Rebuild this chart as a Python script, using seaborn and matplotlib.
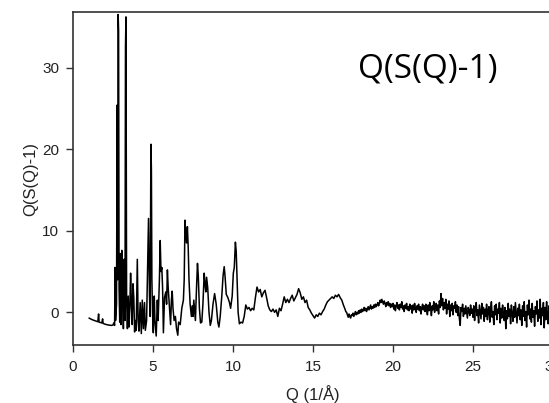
import numpy as np
import pandas as pd
import matplotlib
matplotlib.use("Agg")
import matplotlib.pyplot as plt
import seaborn as sns

# ---- data ----
q_peaks = [1.0, 1.2, 1.4, 1.55, 1.6, 1.63, 1.8, 1.85, 1.88, 2.0, 2.2, 2.4, 2.5, 2.55, 2.6,
           2.63, 2.66, 2.72, 2.76, 2.79, 2.82, 2.85, 2.88, 2.92, 2.96, 3.0, 3.05, 3.1, 3.15,
           3.2, 3.25, 3.28, 3.31, 3.35, 3.4, 3.45, 3.5, 3.55, 3.6, 3.65, 3.7, 3.75, 3.8, 3.85,
           3.9, 3.95, 4.02, 4.07, 4.12, 4.2, 4.27, 4.33, 4.4, 4.47, 4.52, 4.6, 4.65, 4.72,
           4.78, 4.82, 4.87, 4.9, 4.93, 4.97, 5.02, 5.08, 5.12, 5.2, 5.27, 5.32, 5.4, 5.45,
           5.5, 5.55, 5.6, 5.65, 5.72, 5.8, 5.85, 5.9, 5.95, 6.0, 6.05, 6.1, 6.15, 6.2, 6.25,
           6.32, 6.4, 6.47, 6.55, 6.6, 6.7, 6.8, 6.9, 6.95, 7.0, 7.05, 7.1, 7.15, 7.2, 7.25,
           7.32, 7.4, 7.45, 7.5, 7.55, 7.6, 7.65, 7.72, 7.78, 7.83, 7.9, 7.97, 8.05, 8.12,
           8.2, 8.25, 8.3, 8.35, 8.42, 8.5, 8.58, 8.65, 8.75, 8.85, 8.95, 9.05, 9.12, 9.2,
           9.3, 9.38, 9.45, 9.5, 9.58, 9.68, 9.78, 9.85, 9.95, 10.02, 10.08, 10.15, 10.2,
           10.27, 10.32, 10.4, 10.5, 10.6, 10.7, 10.8, 10.9, 11.0, 11.1, 11.2, 11.3, 11.4,
           11.5, 11.6, 11.7, 11.8, 11.9, 12.0, 12.1, 12.2, 12.3, 12.4, 12.5, 12.6, 12.7, 12.8,
           12.9, 13.0, 13.1, 13.2, 13.3, 13.4, 13.5, 13.6, 13.7, 13.8, 13.9, 14.0, 14.1, 14.2,
           14.3, 14.4, 14.5, 14.6, 14.7, 14.8, 14.9, 15.0, 15.1, 15.2, 15.3, 15.4, 15.5, 15.6,
           15.7, 15.8, 15.9, 16.0, 16.1, 16.2, 16.3, 16.4, 16.5, 16.6, 16.7, 16.8, 16.9]
s_peaks = [-0.7, -0.9, -1.05, -1.15, -0.2, -1.2, -1.3, -0.8, -1.35, -1.45, -1.55, -1.6, -1.55, -1.3, -1.6,
           5.5, -1.0, 1.0, 25.4, 4.0, 36.5, 34.5, 3.0, -1.2, 7.2, -1.5, 7.6, 2.0, -2.0,
           6.5, -1.0, 32.5, 36.2, 1.5, -2.0, 2.0, -1.8, 0.5, 4.8, 1.0, -1.5, 3.5, 1.8, -2.4,
           -1.0, -2.2, 6.5, -1.0, -2.3, 1.2, -2.6, 1.5, -2.0, 1.2, -2.2, -1.0, 4.0, 11.5,
           2.0, -0.5, 20.6, 17.5, 4.0, 0.0, -2.5, 2.0, -1.0, -2.9, 1.5, -1.0, 4.0, 8.8,
           5.0, 5.5, 3.0, -2.5, 1.8, 2.5, 1.0, 5.2, 3.0, 1.5, 0.0, -1.5, 1.5, 2.6, 0.5,
           -1.0, -0.5, -2.0, -2.8, -1.2, -1.5, 0.5, 1.5, 4.0, 11.3, 9.5, 8.5, 10.5, 8.0, 4.0,
           1.0, -0.5, 0.8, -0.5, 1.5, 0.2, -1.0, 3.0, 6.0, 4.5, 0.5, -1.3, -1.2, 1.0,
           4.8, 3.5, 2.5, 4.3, 3.0, 0.0, -1.6, -1.0, 1.0, 2.3, 1.0, -1.2, -1.8, -0.5,
           2.0, 4.5, 5.6, 4.5, 2.2, 1.8, 1.2, 0.5, 2.0, 4.8, 5.5, 8.6, 7.5,
           3.0, 0.0, -1.4, -1.2, -1.3, -0.5, 0.9, 0.4, 0.6, 0.2, 0.5, 0.3, 1.8,
           3.1, 2.5, 2.8, 1.9, 2.4, 2.7, 1.8, 0.8, 0.3, 0.1, 0.4, 0.0, 0.3, -0.5,
           0.5, 0.2, 1.0, 1.9, 1.2, 1.6, 1.2, 1.7, 2.1, 1.4, 1.8, 2.2, 2.9, 2.4,
           1.6, 1.9, 1.2, 1.5, 0.6, 0.3, -0.1, -0.4, -0.7, -0.3, -0.5, -0.1, -0.3, 0.1,
           0.4, 0.9, 1.3, 1.5, 1.7, 1.9, 1.7, 2.1, 1.9, 2.2, 1.8, 1.5, 0.9]

# high-Q tail, measured on a uniform grid starting at q_tail_start with step q_tail_step
q_tail_start = 17.0
q_tail_step = 0.05
s_tail = [
    0.4, 0.1, 0.0, -0.3, -0.6, -0.2, -0.5, -0.7, -0.3, -0.4, -0.1, -0.5, -0.2, 0.1, -0.3, 0.0, -0.2, 0.2, -0.1, 0.3,
    0.0, 0.4, 0.1, 0.3, 0.6, 0.2, 0.5, 0.1, 0.4, 0.7, 0.3, 0.6, 0.9, 0.4, 0.7, 0.5, 0.9, 0.6, 1.0, 0.7,
    0.9, 1.2, 0.8, 1.1, 1.5, 1.2, 1.6, 1.3, 1.0, 1.4, 1.1, 0.7, 1.2, 0.9, 1.3, 0.8, 1.1, 0.6, 1.0, 0.7,
    1.1, 0.4, 0.9, 0.2, 0.8, 1.2, 0.5, 0.9, 0.3, 1.0, 0.6, 1.3, 0.4, 0.8, 0.1, 0.9, 0.5, 1.1, 0.3, 0.7,
    0.2, 1.0, 0.4, 0.8, -0.1, 0.9, 0.3, 1.1, 0.5, 0.0, 0.8, 0.4, 1.0, 0.2, 0.7, -0.2, 0.6, 1.0, 0.3, 0.8,
    0.1, 1.0, 0.4, -0.3, 0.9, 0.2, 1.2, 0.5, -0.4, 0.8, 0.3, 1.3, 0.0, 0.7, 1.1, 0.2, 0.9, -0.2, 1.4, 0.6,
    2.3, 0.8, 1.7, 0.3, 1.2, 0.5, 1.6, -0.2, 1.0, 0.4, 1.4, -0.5, 0.9, 0.2, 1.1, -0.3, 0.8, 0.5, 1.3, 0.0,
    0.9, -0.4, 0.7, -0.8, -1.6, 0.6, 0.1, 1.0, -0.5, 0.5, -0.2, 0.8, 0.0, -0.7, 0.6, 0.2, -0.4, 0.9, -0.1, 0.4,
    -0.6, 0.8, -1.0, 0.5, 1.2, -0.4, 0.3, -1.3, 0.9, 0.0, -0.8, 1.1, -0.2, 0.6, -1.1, 0.4, -0.5, 1.0, -0.9, 0.2,
    0.7, -1.2, 0.3, 1.3, -0.6, 0.1, -1.5, 0.8, -0.3, 1.0, -0.9, 0.4, -0.1, 1.2, -1.3, 0.5, -0.7, 0.9, -0.2, -1.0,
    0.6, -2.0, 0.2, -0.8, 1.1, -0.5, 0.4, -1.4, 0.9, -0.2, -1.1, 0.7, -0.6, 1.2, 0.0, -1.3, 0.5, -0.4, 1.0, -0.9,
    0.3, -1.6, 0.8, -0.5, 1.3, -1.0, 0.1, -1.8, 0.9, -0.3, 1.5, -0.8, 0.4, -1.2, 1.1, -0.6, 0.2, -1.7, 0.7, -0.2,
    1.4, -1.1, 0.3, -0.7, 1.6, -1.5, 0.5, -0.4, 1.2, -1.9, 0.6, -0.9, 1.3, -0.3, -1.4, 0.8, -0.6, 1.5, -1.0, 0.2,
]

x_ticks = [0, 5, 10, 15, 20, 25, 30]
y_ticks = [0, 10, 20, 30]
x_label = "Q (1/\u00c5)"
y_label = "Q(S(Q)-1)"
title_text = "Q(S(Q)-1)"

# ---- build table ----
q_tail = [round(q_tail_start + i * q_tail_step, 4) for i in range(len(s_tail))]
df = pd.DataFrame({"Q": list(q_peaks) + q_tail, "S": list(s_peaks) + list(s_tail)})

sns.set_style("ticks")
plt.rcParams["font.family"] = ["Liberation Sans", "DejaVu Sans"]

W, H = 549, 403
fig = plt.figure(figsize=(W / 100, H / 100), dpi=100)
ax = fig.add_axes([73 / W, (H - 345) / H, 480 / W, 333 / H])

sns.lineplot(data=df, x="Q", y="S", ax=ax, color="black", linewidth=1.1,
             sort=False, estimator=None)

ax.set_xlim(0, 30)
ax.set_ylim(-4, 36.8)
ax.set_xticks(x_ticks)
ax.set_yticks(y_ticks)
ax.tick_params(axis="both", direction="out", length=5, width=1.0, color="#333333",
               labelsize=11, labelcolor="#222222")
ax.tick_params(axis="x", pad=6)
ax.tick_params(axis="y", pad=5)
for side in ["left", "bottom", "top"]:
    ax.spines[side].set_color("#333333")
    ax.spines[side].set_linewidth(1.2)
ax.spines["right"].set_visible(False)

ax.set_xlabel(x_label, fontsize=12, color="#222222")
ax.set_ylabel(y_label, fontsize=12, color="#222222")
ax.xaxis.set_label_coords(0.5, -0.12)
ax.yaxis.set_label_coords(-0.072, 0.5)

ax.text(428 / W, (H - 69) / H, title_text, transform=fig.transFigure,
        ha="center", va="center", fontsize=24, family=["Open Sans", "DejaVu Sans"],
        color="black")

fig.savefig("out.png", dpi=100, facecolor="white")
